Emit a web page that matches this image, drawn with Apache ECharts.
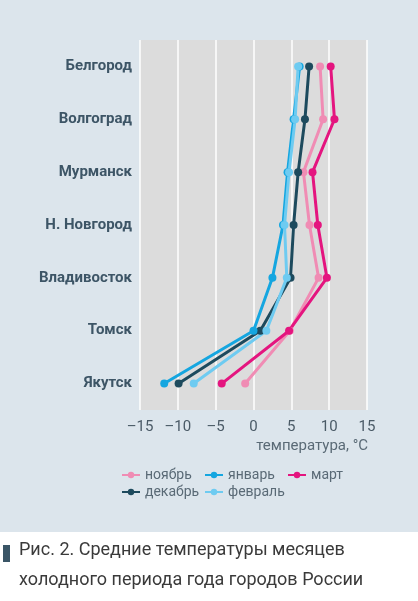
<!DOCTYPE html>
<html><head><meta charset="utf-8">
<script src="https://cdn.jsdelivr.net/npm/echarts@6/dist/echarts.min.js"></script>
<style>html,body{margin:0;padding:0;background:#fff}#c{width:418px;height:601px}</style>
</head><body><div id="c"></div>
<script>
const cities = ['Белгород', 'Волгоград', 'Мурманск', 'Н. Новгород', 'Владивосток', 'Томск', 'Якутск']
const xTicks = [-15, -10, -5, 0, 5, 10, 15]
const nov = [8.8, 9.2, 6.6, 7.4, 8.6, 4.8, -1.1]
const dec = [7.35, 6.8, 5.9, 5.3, 4.9, 0.9, -9.9]
const jan = [6.1, 5.3, 4.5, 3.9, 2.5, 0.0, -11.8]
const feb = [5.9, 5.5, 4.7, 4.1, 4.4, 1.7, -7.9]
const mar = [10.2, 10.7, 7.8, 8.5, 9.7, 4.7, -4.2]

const SERIES = [
  { name: 'ноябрь', data: nov, color: '#f08cb4' },
  { name: 'декабрь', data: dec, color: '#1d4a5d' },
  { name: 'январь', data: jan, color: '#15a6e0' },
  { name: 'февраль', data: feb, color: '#6ecbf1' },
  { name: 'март', data: mar, color: '#e4157f' },
]
// legend columns, as in the original layout
const LEGEND_COLS = [['ноябрь', 'декабрь'], ['январь', 'февраль'], ['март']]
const LEGEND_LEFT = [116, 199, 282]
const FONT = 'Roboto, "Noto Sans", sans-serif'

const chart = echarts.init(document.getElementById('c'))
chart.setOption({
  animation: false,
  backgroundColor: '#ffffff',
  graphic: [
    { type: 'rect', z: -10, shape: { x: 0, y: 0, width: 418, height: 532 }, style: { fill: '#dce5ec' } },
    { type: 'rect', shape: { x: 3, y: 545, width: 7, height: 17 }, style: { fill: '#3a5566' } },
    { type: 'text', left: 19, top: 541, style: { text: 'Рис. 2. Средние температуры месяцев', fontSize: 18, fontFamily: FONT, fill: '#3a3a3a' } },
    { type: 'text', left: 19, top: 571, style: { text: 'холодного периода года городов России', fontSize: 18, fontFamily: FONT, fill: '#3a3a3a' } },
    { type: 'text', right: 50, top: 439, style: { text: 'температура, °C', fontSize: 15, fontFamily: FONT, fill: '#5a6a76' } },
  ],
  grid: { left: 140, right: 51, top: 40, bottom: 191, show: true, backgroundColor: '#dcdcdc', borderWidth: 0 },
  xAxis: {
    type: 'value', min: -15, max: 15, interval: 5,
    axisLine: { show: false }, axisTick: { show: false },
    axisLabel: { color: '#4a5a66', fontSize: 15, fontFamily: FONT, margin: 10,
      formatter: v => (v < 0 ? '–' + Math.abs(v) : String(v)) },
    splitLine: { lineStyle: { color: '#ffffff', width: 1.5 } },
  },
  yAxis: {
    type: 'category', data: cities, inverse: true,
    axisLine: { show: false }, axisTick: { show: false },
    axisLabel: { color: '#3d5566', fontSize: 15, fontWeight: 'bold', fontFamily: FONT, margin: 8 },
    splitLine: { show: false },
  },
  legend: LEGEND_COLS.map((names, i) => ({
    data: names, orient: 'vertical', left: LEGEND_LEFT[i], top: 463,
    itemWidth: 18, itemHeight: 8, itemGap: 3,
    textStyle: { color: '#5a6a76', fontSize: 14, fontFamily: FONT },
  })),
  series: SERIES.map(s => ({
    name: s.name, type: 'line', data: s.data,
    symbol: 'circle', symbolSize: 8,
    itemStyle: { color: s.color },
    lineStyle: { color: s.color, width: 3 },
  })),
})
</script></body></html>
